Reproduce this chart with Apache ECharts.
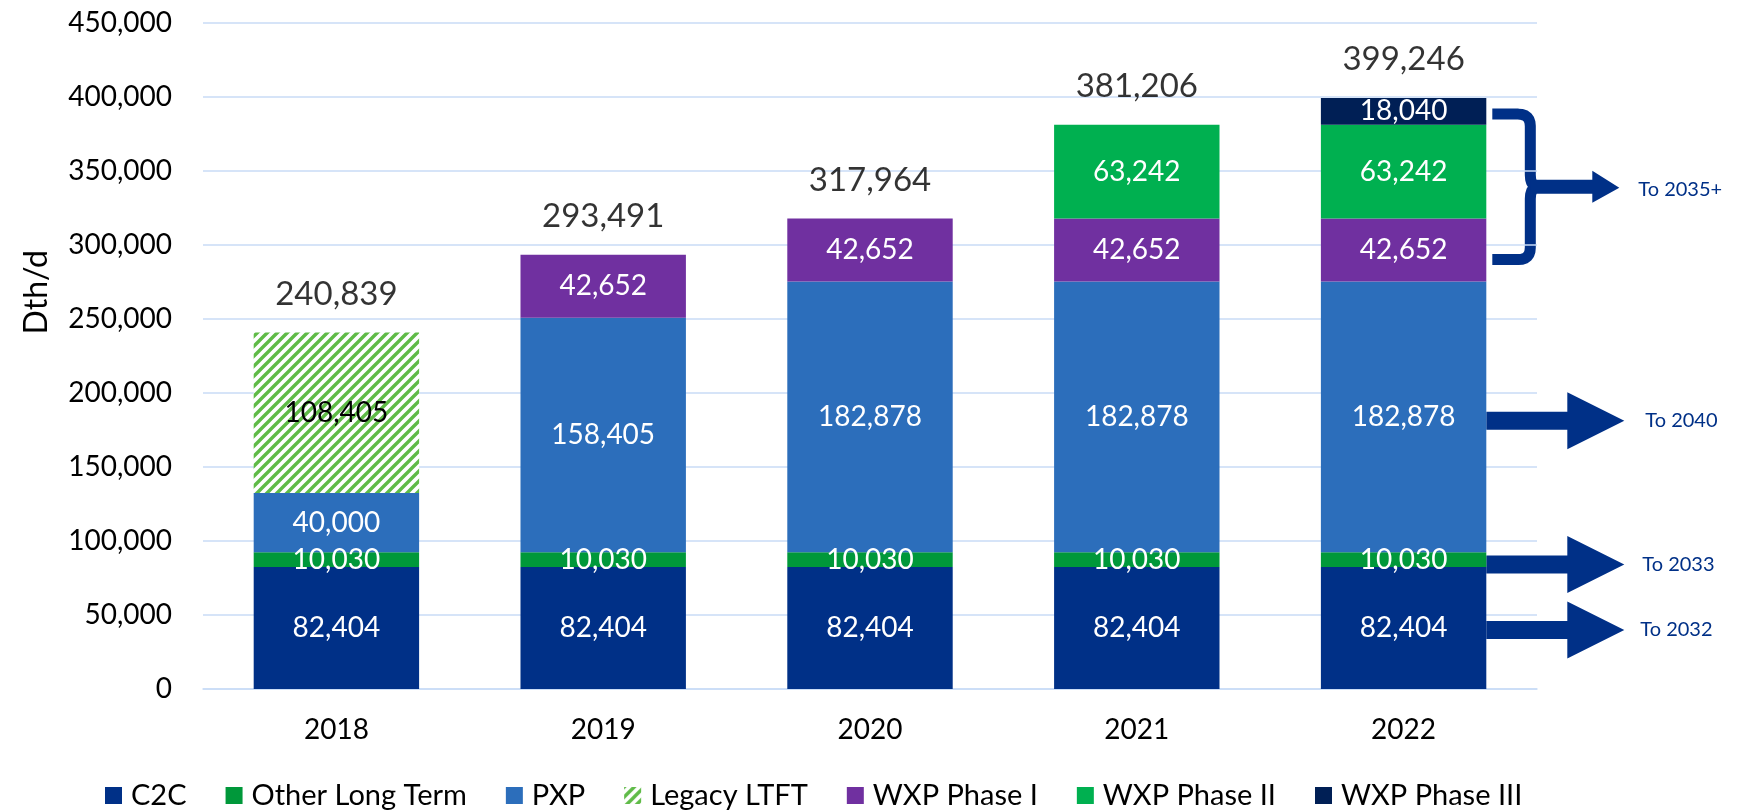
<!DOCTYPE html>
<html>
<head>
<meta charset="utf-8">
<script src="https://cdn.jsdelivr.net/npm/echarts@6/dist/echarts.min.js"></script>
<style>
  html, body { margin: 0; padding: 0; background: #fff; }
  #chart { width: 1737px; height: 811px; }
</style>
</head>
<body>
<div id="chart"></div>
<script>
  const years = ['2018', '2019', '2020', '2021', '2022'];
  const c2c = [82404, 82404, 82404, 82404, 82404];
  const otherLongTerm = [10030, 10030, 10030, 10030, 10030];
  const pxp = [40000, 158405, 182878, 182878, 182878];
  const legacyLtft = [108405, null, null, null, null];
  const wxpPhase1 = [null, 42652, 42652, 42652, 42652];
  const wxpPhase2 = [null, null, null, 63242, 63242];
  const wxpPhase3 = [null, null, null, null, 18040];
  const totals = [240839, 293491, 317964, 381206, 399246];
  const yMax = 450000;
  const yStep = 50000;

  const FONT = "Lato, 'Liberation Sans', sans-serif";
  const NAVY = '#003087';
  const GRID = '#C9DBF6';

  // green diagonal hatch for Legacy LTFT
  function makeHatch() {
    let c = document.createElement('canvas');
    c.width = 10;
    c.height = 10;
    let ctx = c.getContext('2d');
    ctx.fillStyle = '#ffffff';
    ctx.fillRect(0, 0, 10, 10);
    ctx.strokeStyle = '#5FBB47';
    ctx.lineWidth = 3.4;
    ctx.beginPath();
    ctx.moveTo(-5, 5); ctx.lineTo(5, -5);
    ctx.moveTo(0, 10); ctx.lineTo(10, 0);
    ctx.moveTo(5, 15); ctx.lineTo(15, 5);
    ctx.stroke();
    return c;
  }

  function fmt(v) {
    return Number(v).toLocaleString('en-US');
  }

  function stackSeries(name, data, color, labelColor) {
    return {
      name: name,
      type: 'bar',
      stack: 'total',
      barWidth: '62%',
      data: data,
      itemStyle: { color: color },
      label: {
        show: true,
        position: 'inside',
        color: labelColor || '#ffffff',
        fontFamily: FONT,
        fontSize: 28,
        formatter: function (p) { return fmt(p.value); }
      },
      emphasis: { disabled: true }
    };
  }

  let chart = echarts.init(document.getElementById('chart'));

  let option = {
    animation: false,
    backgroundColor: '#ffffff',
    grid: { left: 203, right: 200, top: 23, height: 666 },
    legend: {
      left: 100,
      top: 776,
      icon: 'rect',
      itemWidth: 17,
      itemHeight: 17,
      itemGap: 39,
      data: ['C2C', 'Other Long Term', 'PXP', 'Legacy LTFT', 'WXP Phase I', 'WXP Phase II', 'WXP Phase III'],
      textStyle: { fontFamily: FONT, fontSize: 29, color: '#000', padding: [0, 0, 0, 4] }
    },
    xAxis: {
      type: 'category',
      data: years,
      axisTick: { show: false },
      axisLine: { lineStyle: { color: GRID, width: 1.5 } },
      axisLabel: { color: '#000', fontFamily: FONT, fontSize: 28, margin: 27 }
    },
    yAxis: {
      type: 'value',
      min: 0,
      max: yMax,
      interval: yStep,
      axisLine: { show: false },
      axisTick: { show: false },
      axisLabel: {
        color: '#000', fontFamily: FONT, fontSize: 28, margin: 31,
        formatter: function (v) { return fmt(v); }
      },
      splitLine: { lineStyle: { color: GRID, width: 1.5 } }
    },
    graphic: [{
      type: 'text',
      left: 21,
      top: 250,
      rotation: Math.PI / 2,
      style: { text: 'Dth/d', font: '32px ' + FONT, fill: '#000' }
    }],
    series: [
      stackSeries('C2C', c2c, '#003087'),
      stackSeries('Other Long Term', otherLongTerm, '#00983A'),
      stackSeries('PXP', pxp, '#2C6EBB'),
      stackSeries('Legacy LTFT', legacyLtft, { image: makeHatch(), repeat: 'repeat' }, '#000000'),
      stackSeries('WXP Phase I', wxpPhase1, '#7030A0'),
      stackSeries('WXP Phase II', wxpPhase2, '#00B050'),
      stackSeries('WXP Phase III', wxpPhase3, '#001F55'),
      {
        name: 'Total',
        type: 'scatter',
        data: totals,
        symbolSize: 0,
        silent: true,
        itemStyle: { color: 'rgba(0,0,0,0)' },
        label: {
          show: true,
          position: 'top',
          distance: 22,
          color: '#000',
          fontFamily: FONT,
          fontSize: 33,
          formatter: function (p) { return fmt(p.value); }
        }
      }
    ]
  };
  chart.setOption(option);

  // sample a quadratic curve into points
  function quad(p0, c, p1, n) {
    let pts = [];
    for (let i = 1; i <= n; i++) {
      let t = i / n, u = 1 - t;
      pts.push([u * u * p0[0] + 2 * u * t * c[0] + t * t * p1[0], u * u * p0[1] + 2 * u * t * c[1] + t * t * p1[1]]);
    }
    return pts;
  }

  // annotations on the right of the 2022 bar
  function drawNotes() {
    let last = years.length - 1;
    let cx = chart.convertToPixel({ xAxisIndex: 0 }, years[last]);
    let catW = cx - chart.convertToPixel({ xAxisIndex: 0 }, years[last - 1]);
    let x0 = cx + catW * 0.62 / 2;
    let py = function (v) { return chart.convertToPixel({ yAxisIndex: 0 }, v); };

    let arrows = [
      { y: py(c2c[last] / 2) + 2, text: 'To 2032', tx: 154 },
      { y: py(c2c[last] + otherLongTerm[last] / 2) + 5, text: 'To 2033', tx: 156 },
      { y: py(c2c[last] + otherLongTerm[last] + pxp[last] / 2) + 4, text: 'To 2040', tx: 159 }
    ];
    let els = [];
    arrows.forEach(function (a) {
      els.push({
        type: 'polygon',
        shape: { points: [[x0, a.y - 9], [x0 + 81, a.y - 9], [x0 + 81, a.y - 28.5], [x0 + 138, a.y],
          [x0 + 81, a.y + 28.5], [x0 + 81, a.y + 9], [x0, a.y + 9]] },
        style: { fill: NAVY }
      });
      els.push({
        type: 'text', x: x0 + a.tx, y: a.y,
        style: { text: a.text, font: '20px ' + FONT, fill: NAVY, textVerticalAlign: 'middle' }
      });
    });

    // brace around the WXP phases
    let wxpBase = c2c[last] + otherLongTerm[last] + pxp[last];
    let top = py(totals[last]) + 16;
    let bot = py(wxpBase) - 22;
    let mid = (top + bot) / 2;
    let bx = x0 + 44;
    let ax = x0 + 6;
    let pts = [[ax, top], [bx - 12, top]];
    pts = pts.concat(quad([bx - 12, top], [bx, top], [bx, top + 12], 6));
    pts.push([bx, mid - 12]);
    pts = pts.concat(quad([bx, mid - 12], [bx, mid], [bx + 8, mid], 5));
    pts = pts.concat(quad([bx + 8, mid], [bx, mid], [bx, mid + 12], 5));
    pts.push([bx, bot - 12]);
    pts = pts.concat(quad([bx, bot - 12], [bx, bot], [bx - 12, bot], 6));
    pts.push([ax, bot]);
    els.push({
      type: 'polyline',
      shape: { points: pts },
      style: { fill: null, stroke: NAVY, lineWidth: 11, lineJoin: 'round' }
    });
    els.push({
      type: 'polygon',
      shape: { points: [[bx, mid - 7], [x0 + 106, mid - 7], [x0 + 106, mid - 16], [x0 + 133, mid + 1],
        [x0 + 106, mid + 16], [x0 + 106, mid + 7], [bx, mid + 7]] },
      style: { fill: NAVY }
    });
    els.push({
      type: 'text', x: x0 + 152, y: mid + 3,
      style: { text: 'To 2035+', font: '20px ' + FONT, fill: NAVY, textVerticalAlign: 'middle' }
    });

    chart.setOption({ graphic: option.graphic.concat(els) });
  }
  drawNotes();

  window.onresize = function () {
    chart.resize();
    drawNotes();
  };
</script>
</body>
</html>
